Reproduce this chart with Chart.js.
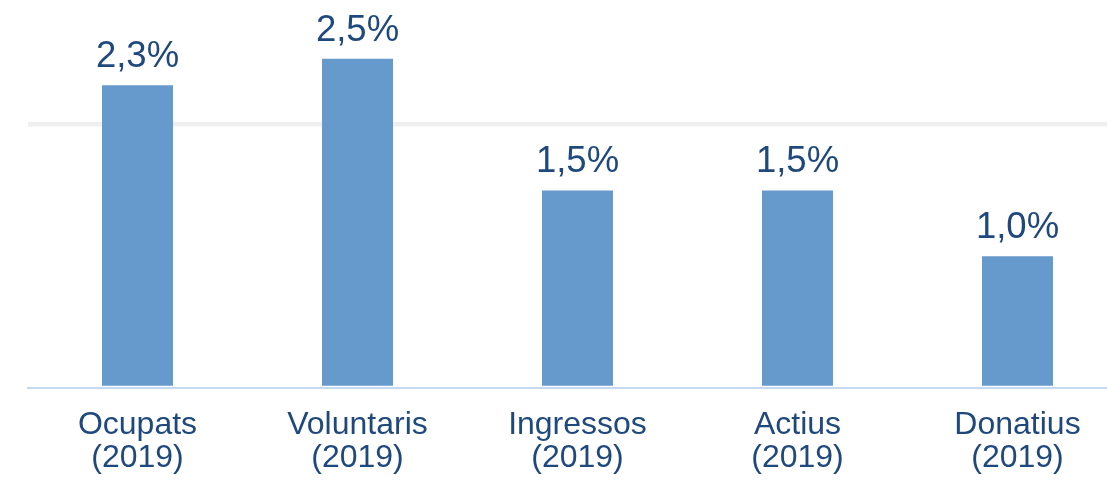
<!DOCTYPE html>
<html>
<head>
<meta charset="utf-8">
<script src="https://cdn.jsdelivr.net/npm/chart.js@4"></script>
<style>
  html, body { margin: 0; padding: 0; background: #ffffff; overflow: hidden; }
  #wrap { width: 1107px; height: 481px; overflow: hidden; position: relative; }
  canvas { display: block; }
</style>
</head>
<body>
<div id="wrap"><canvas id="c" width="1135" height="481"></canvas></div>
<script>
const categories = [["Ocupats", "(2019)"], ["Voluntaris", "(2019)"], ["Ingressos", "(2019)"], ["Actius", "(2019)"], ["Donatius", "(2019)"]];
const values = [2.3, 2.5, 1.5, 1.5, 1.0];
const gridValues = [2];

const textColor = '#1f497d';
const barColor = '#6699cc';
const fontFamily = '"Liberation Sans", Arial, sans-serif';

function fmt(v) {
  return v.toFixed(1).replace('.', ',') + '%';
}

const valueLabels = {
  id: 'valueLabels',
  afterDatasetsDraw(chart) {
    const ctx = chart.ctx;
    const meta = chart.getDatasetMeta(0);
    ctx.save();
    ctx.font = '36.5px ' + fontFamily;
    ctx.fillStyle = textColor;
    ctx.textAlign = 'center';
    ctx.textBaseline = 'alphabetic';
    meta.data.forEach((bar, i) => {
      ctx.fillText(fmt(values[i]), bar.x, bar.y - 18);
    });
    ctx.restore();
  }
};

new Chart(document.getElementById('c'), {
  type: 'bar',
  data: {
    labels: categories,
    datasets: [{
      data: values,
      backgroundColor: barColor,
      borderWidth: 0,
      categoryPercentage: 1,
      barPercentage: 71 / 220
    }]
  },
  options: {
    responsive: false,
    animation: false,
    devicePixelRatio: 1,
    layout: { padding: { left: 27.5, right: 7.5, top: 21, bottom: 0 } },
    plugins: { legend: { display: false }, tooltip: { enabled: false } },
    scales: {
      x: {
        afterFit(scale) { scale.height = 93; },
        grid: { display: false, drawTicks: false },
        border: { display: true, color: '#c6d9f1', width: 2 },
        ticks: {
          color: textColor,
          font: { family: fontFamily, size: 32, lineHeight: 1.03 },
          padding: 21,
          maxRotation: 0,
          autoSkip: false
        }
      },
      y: {
        min: 0,
        max: 2.787,
        afterFit(scale) { scale.width = 0; },
        ticks: { display: false, stepSize: 2 },
        border: { display: false },
        grid: {
          drawTicks: false,
          lineWidth: 4.5,
          color: (c) => gridValues.includes(c.tick && c.tick.value) ? '#efefef' : 'rgba(0,0,0,0)'
        }
      }
    }
  },
  plugins: [valueLabels]
});
</script>
</body>
</html>
